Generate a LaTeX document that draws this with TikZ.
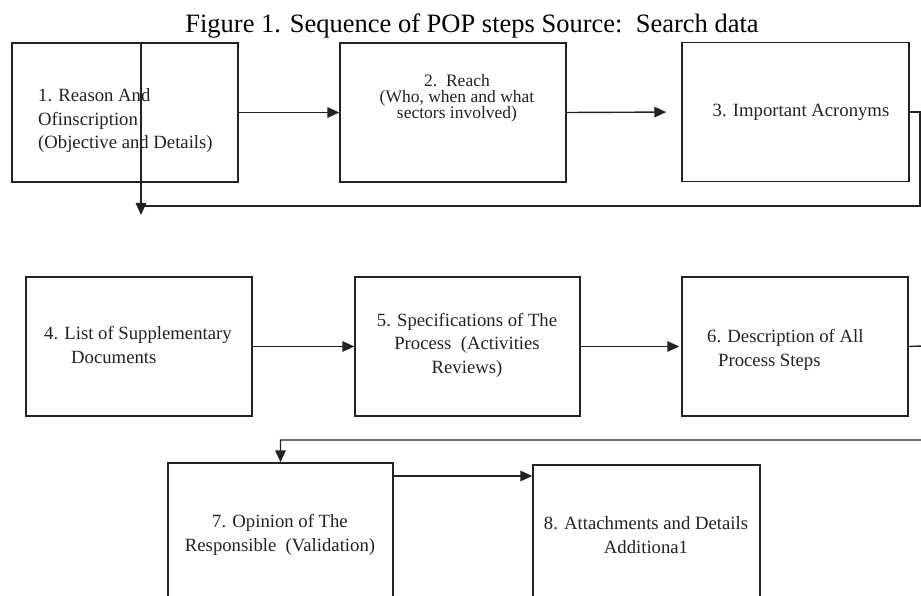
\documentclass[tikz,border=0pt]{standalone}
\usepackage{fontspec}
\setmainfont{Liberation Serif}
\usetikzlibrary{arrows.meta}
\definecolor{ink}{HTML}{222222}
\tikzset{
  boxnode/.style={draw=ink, line width=1.4pt, minimum width=#1, minimum height=139pt, inner sep=0pt},
  boxnode/.default=226pt,
  txt/.style={font=\fontsize{18.7pt}{23.5pt}\selectfont, text=ink, inner sep=0pt},
  arr/.style={draw=ink, line width=1.4pt, -{Triangle[length=12pt,width=10.5pt]}},
  conn/.style={draw=ink, line width=1.4pt}
}
\begin{document}
\begin{tikzpicture}[x=1pt,y=-1pt]
\useasboundingbox (0,0) rectangle (921,596);
\fill[white] (0,0) rectangle (921,596);
\clip (0,0) rectangle (921,596);

% title
\node[anchor=base, font=\fontsize{26.5pt}{30pt}\selectfont, text=black, inner sep=0pt] (title) at (472,33) {Figure 1. Sequence of POP steps Source:\ \ Search data};

% boxes
\node[boxnode] (b1) at (125,112.5) {};
\node[boxnode] (b2) at (453,112.5) {};
\node[boxnode=227pt] (b3) at (795.5,112) {};
\node[boxnode] (b4) at (139,346.5) {};
\node[boxnode=225pt] (b5) at (467.5,346.5) {};
\node[boxnode] (b6) at (795,346.5) {};
\node[boxnode=225pt] (b7) at (280.5,532.5) {};
\node[boxnode=227pt] (b8) at (646.5,534.5) {};

% texts
\node[txt, anchor=west, align=left] (t1) at (38,121) {1. Reason And\\ Ofinscription\\(Objective and Details)};
\node[txt, align=center, font=\fontsize{17.5pt}{16pt}\selectfont] (t2) at (457,98) {2.\ \ Reach\\(Who, when and what\\sectors involved)};
\node[txt] (t3) at (801,112) {3. Important Acronyms};
\node[txt, anchor=west, align=left] (t4) at (44,345) {4. List of Supplementary\\\hspace*{27pt}Documents};
\node[txt, align=center] (t5) at (467,345) {5. Specifications of The\\Process\ \ (Activities\\Reviews)};
\node[txt, anchor=west, align=left] (t6) at (707,350) {6. Description of All\\\hspace*{11pt}Process Steps};
\node[txt, align=center] (t7) at (280,535) {7. Opinion of The\\Responsible\ \ (Validation)};
\node[txt, align=center] (t8) at (646,535) {8. Attachments and Details\\Additiona1};

% coordinates
\coordinate (r1) at (920,112);
\coordinate (r2) at (920,206);
\coordinate (l1) at (141,206);
\coordinate (v1) at (141,43);
\coordinate (v2) at (141,215);
\coordinate (r3) at (922.5,346);
\coordinate (r4) at (922.5,440);
\coordinate (y78) at (0,476);

% connectors
\draw[arr] (b1.east) -- (b2.west);
\draw[arr, shorten >=15pt] (b2.east) -- (b3.west);
\draw[conn] (b3.east) -- (r1) -- (r2) -- (l1);
\draw[arr] (v1) -- (v2);
\draw[arr] (b4.east) -- (b5.west);
\draw[arr, shorten >=2pt] (b5.east) -- (b6.west);
\draw[arr] (b6.east) -- (r3) -- (r4) -| (b7.north);
\draw[arr] (b7.east |- y78) -- (b8.west |- y78);
\end{tikzpicture}
\end{document}
